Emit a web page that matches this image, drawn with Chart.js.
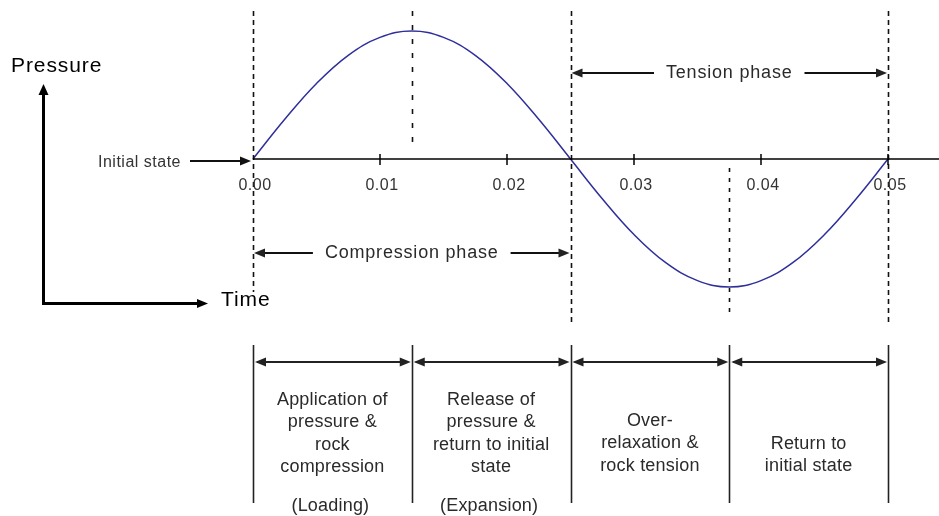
<!DOCTYPE html>
<html>
<head>
<meta charset="utf-8">
<script src="https://cdn.jsdelivr.net/npm/chart.js@4.4.1/dist/chart.umd.min.js"></script>
<style>
  body { margin: 0; background: #fff; }
  #wrap { width: 939px; height: 516px; }
</style>
</head>
<body>
<div id="wrap"><canvas id="chart"></canvas></div>
<script>
// values
const timeValues = [0, 0.0025, 0.005, 0.0075, 0.01, 0.0125, 0.015, 0.0175, 0.02, 0.0225, 0.025,
                    0.0275, 0.03, 0.0325, 0.035, 0.0375, 0.04, 0.0425, 0.045, 0.0475, 0.05]
const pressureValues = [0, 0.31, 0.59, 0.81, 0.95, 1.0, 0.95, 0.81, 0.59, 0.31, 0,
                        -0.31, -0.59, -0.81, -0.95, -1.0, -0.95, -0.81, -0.59, -0.31, 0]
const tickValues = [0, 0.01, 0.02, 0.03, 0.04, 0.05]
const tickLabels = ['0.00', '0.01', '0.02', '0.03', '0.04', '0.05']
const stageBounds = [0, 0.0125, 0.025, 0.0375, 0.05]
const stageTexts = [
      ['Application of', 'pressure &', 'rock', 'compression'],
      ['Release of', 'pressure &', 'return to initial', 'state'],
      ['Over-', 'relaxation &', 'rock tension'],
      ['Return to', 'initial state']
]
const stageNotes = ['(Loading)', '(Expansion)', '', '']

const font = '"Liberation Sans", Arial, sans-serif'

function arrowHead(ctx, x, y, dir) {
      // dir: 1 = pointing right, -1 = left, 2 = up
      ctx.beginPath()
      if (dir === 2) {
            ctx.moveTo(x, y)
            ctx.lineTo(x - 5, y + 11)
            ctx.lineTo(x + 5, y + 11)
      } else {
            ctx.moveTo(x, y)
            ctx.lineTo(x - dir * 11, y - 4.5)
            ctx.lineTo(x - dir * 11, y + 4.5)
      }
      ctx.closePath()
      ctx.fill()
}

function hLine(ctx, x1, x2, y) {
      ctx.beginPath()
      ctx.moveTo(x1, y)
      ctx.lineTo(x2, y)
      ctx.stroke()
}

function vLine(ctx, x, y1, y2) {
      ctx.beginPath()
      ctx.moveTo(x, y1)
      ctx.lineTo(x, y2)
      ctx.stroke()
}

const sketch = {
      id: 'sketch',
      afterDatasetsDraw(chart) {
            const ctx = chart.ctx
            const xs = chart.scales.x
            const ys = chart.scales.y
            const px = v => xs.getPixelForValue(v)
            const y0 = ys.getPixelForValue(0)
            ctx.save()

            // dashed guide lines
            ctx.strokeStyle = '#111'
            ctx.lineWidth = 1.6
            const guides = [[0, 11, 292, [5, 4]], [0.0125, 11, 143, [5, 9]], [0.025, 11, 326, [5, 4]],
                            [0.0375, 168, 314, [4, 6]], [0.05, 11, 326, [5, 4]]]
            guides.forEach(g => {
                  ctx.setLineDash(g[3])
                  vLine(ctx, Math.round(px(g[0])) + 0.5, g[1], g[2])
            })
            ctx.setLineDash([])

            // time axis
            ctx.strokeStyle = '#000'
            ctx.lineWidth = 1.5
            hLine(ctx, px(0), 939, y0)
            ctx.fillStyle = '#333'
            ctx.font = '16px ' + font
            ctx.letterSpacing = '0.5px'
            ctx.textAlign = 'center'
            ctx.textBaseline = 'middle'
            tickValues.forEach((v, i) => {
                  if (i > 0) vLine(ctx, px(v), y0 - 5, y0 + 6)
                  ctx.fillText(tickLabels[i], px(v) + 2, y0 + 27)
            })

            // initial state arrow
            ctx.fillStyle = '#111'
            ctx.strokeStyle = '#111'
            ctx.lineWidth = 2
            hLine(ctx, 190, px(0) - 8, y0 + 2)
            arrowHead(ctx, px(0) - 2, y0 + 2, 1)
            ctx.fillStyle = '#333'
            ctx.font = '16px ' + font
            ctx.textAlign = 'right'
            ctx.fillText('Initial state', 181, y0 + 4)

            // phase arrows
            ctx.font = '18px ' + font
            ctx.letterSpacing = '0.8px'
            ctx.textAlign = 'center'
            const phases = [[0, 0.025, 253, 'Compression phase'], [0.025, 0.05, 73, 'Tension phase']]
            phases.forEach(p => {
                  const a = px(p[0]), b = px(p[1]), m = (a + b) / 2
                  const w = ctx.measureText(p[3]).width / 2 + 12
                  ctx.fillStyle = '#222'
                  hLine(ctx, a + 4, m - w, p[2])
                  hLine(ctx, m + w, b - 4, p[2])
                  arrowHead(ctx, a + 1, p[2], -1)
                  arrowHead(ctx, b - 1, p[2], 1)
                  ctx.fillStyle = '#2a2a2a'
                  ctx.fillText(p[3], m, p[2])
            })

            // stage boxes
            ctx.strokeStyle = '#222'
            ctx.lineWidth = 1.6
            stageBounds.forEach(t => vLine(ctx, Math.round(px(t)) + 0.5, 345, 503))
            ctx.font = '18px ' + font
            ctx.letterSpacing = '0.2px'
            for (let i = 0; i < stageTexts.length; i++) {
                  const a = px(stageBounds[i]), b = px(stageBounds[i + 1]), m = (a + b) / 2
                  ctx.fillStyle = '#222'
                  ctx.lineWidth = 2
                  hLine(ctx, a + 4, b - 4, 362)
                  arrowHead(ctx, a + 2, 362, -1)
                  arrowHead(ctx, b - 1, 362, 1)
                  ctx.fillStyle = '#2a2a2a'
                  const lines = stageTexts[i]
                  const start = i < 2 ? 400 : (i === 2 ? 421 : 444)
                  lines.forEach((l, k) => ctx.fillText(l, m, start + k * 22.5))
                  if (stageNotes[i]) ctx.fillText(stageNotes[i], m - 2, 506)
            }

            // schematic pressure / time axes
            ctx.strokeStyle = '#000'
            ctx.fillStyle = '#000'
            ctx.lineWidth = 3
            ctx.beginPath()
            ctx.moveTo(43.5, 94)
            ctx.lineTo(43.5, 303.5)
            ctx.lineTo(198, 303.5)
            ctx.stroke()
            arrowHead(ctx, 43.5, 84, 2)
            arrowHead(ctx, 208, 303.5, 1)
            ctx.fillStyle = '#000'
            ctx.font = '21px ' + font
            ctx.letterSpacing = '0.9px'
            ctx.textAlign = 'left'
            ctx.fillText('Pressure', 11, 66)
            ctx.fillText('Time', 221, 300)

            ctx.restore()
      }
}

window.onload = () => {
      const points = timeValues.map((t, i) => ({ x: t, y: pressureValues[i] }))
      new Chart(document.getElementById('chart'), {
            type: 'line',
            data: {
                  datasets: [{
                        data: points,
                        borderColor: '#2e2e9c',
                        borderWidth: 1.5,
                        pointRadius: 0,
                        tension: 0.4,
                        fill: false
                  }]
            },
            options: {
                  responsive: true,
                  maintainAspectRatio: false,
                  animation: false,
                  layout: { padding: 0 },
                  plugins: { legend: { display: false }, tooltip: { enabled: false } },
                  scales: {
                        x: { type: 'linear', display: false, min: -253 / 12700, max: (939 - 253) / 12700 },
                        y: { display: false, min: (159 - 516) / 128, max: 159 / 128 }
                  }
            },
            plugins: [sketch]
      })
}
</script>
</body>
</html>
